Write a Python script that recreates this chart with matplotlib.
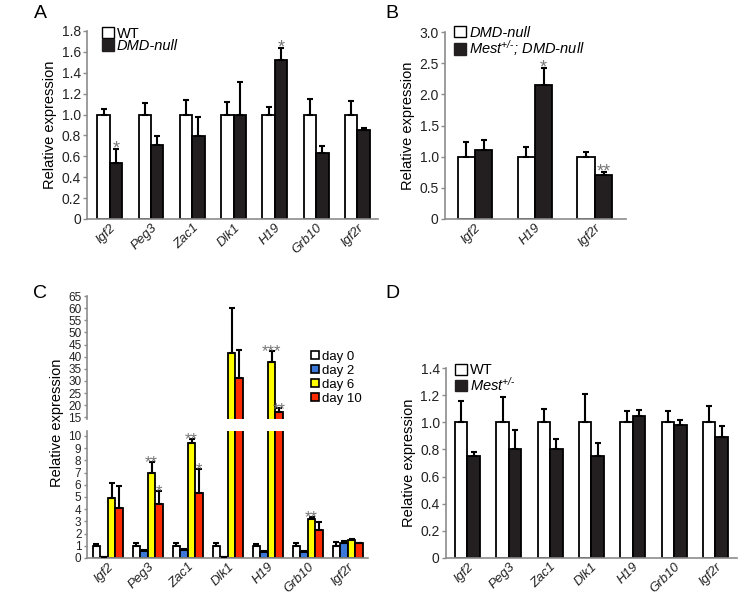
import matplotlib.pyplot as plt
import numpy as np
from matplotlib.patches import Patch

plt.rcParams['font.family'] = ['Liberation Sans', 'DejaVu Sans']
plt.rcParams['mathtext.fontset'] = 'custom'
plt.rcParams['mathtext.rm'] = 'Liberation Sans'
plt.rcParams['mathtext.it'] = 'Liberation Sans:italic'

genes = ['Igf2', 'Peg3', 'Zac1', 'Dlk1', 'H19', 'Grb10', 'Igf2r']

# panel A
a_wt = [1.0, 1.0, 1.0, 1.0, 1.0, 1.0, 1.0]
a_wt_err = [0.05, 0.11, 0.14, 0.12, 0.07, 0.15, 0.13]
a_null = [0.54, 0.71, 0.79, 1.0, 1.52, 0.63, 0.85]
a_null_err = [0.13, 0.08, 0.19, 0.31, 0.12, 0.07, 0.02]
a_stars = ['*', '', '', '', '*', '', '']

# panel B
b_genes = ['Igf2', 'H19', 'Igf2r']
b_null = [1.0, 1.0, 1.0]
b_null_err = [0.24, 0.15, 0.07]
b_mest = [1.11, 2.15, 0.71]
b_mest_err = [0.16, 0.27, 0.04]
b_stars = ['', '*', '**']

# panel C
days = ['day 0', 'day 2', 'day 6', 'day 10']
c_day0 = [1.0, 1.0, 1.0, 1.0, 1.0, 1.0, 1.0]
c_day0_err = [0.15, 0.25, 0.25, 0.2, 0.15, 0.2, 0.27]
c_day2 = [0.05, 0.55, 0.65, 0.08, 0.5, 0.5, 1.2]
c_day2_err = [0.0, 0.1, 0.05, 0.0, 0.1, 0.08, 0.2]
c_day6 = [4.95, 7.0, 9.4, 41.5, 37.6, 3.2, 1.47]
c_day6_err = [1.17, 0.9, 0.35, 18.7, 4.9, 0.15, 0.08]
c_day10 = [4.1, 4.4, 5.35, 31.3, 17.3, 2.3, 1.25]
c_day10_err = [1.8, 1.1, 1.95, 11.6, 1.4, 0.63, 0.0]
c_stars6 = ['', '**', '**', '', '***', '**', '']
c_stars10 = ['', '*', '*', '', '**', '', '']

# panel D
d_wt = [1.0, 1.0, 1.0, 1.0, 1.0, 1.0, 1.0]
d_wt_err = [0.16, 0.19, 0.10, 0.21, 0.08, 0.08, 0.12]
d_mest = [0.75, 0.80, 0.80, 0.75, 1.05, 0.98, 0.89]
d_mest_err = [0.03, 0.14, 0.08, 0.10, 0.04, 0.04, 0.08]

AXC = '#8c8c8c'
DARK = '#231f20'
MEST = r'Mest$^{\mathregular{+/\text{-}}}$'


def style(ax, labels, ticksize=10):
    for s in ['top', 'right']:
        ax.spines[s].set_visible(False)
    for s in ['left', 'bottom']:
        ax.spines[s].set_color(AXC)
        ax.spines[s].set_linewidth(1.2)
    ax.tick_params(axis='y', colors=AXC, labelcolor='#222222', labelsize=ticksize,
                   length=3, width=1, pad=1.5)
    ax.tick_params(axis='x', length=0, pad=2)
    ax.set_xticks(np.arange(len(labels)))
    ax.set_xticklabels(labels, rotation=45, ha='right', rotation_mode='anchor',
                       fontstyle='italic', fontsize=9.5, color='#222222')


def bars(ax, x, vals, errs, color, w, stars=None, star_size=13):
    ax.bar(x, vals, w, color=color, edgecolor='black', linewidth=1.3, zorder=2)
    ax.errorbar(x, vals, yerr=[np.zeros(len(vals)), errs], fmt='none',
                ecolor='black', elinewidth=1.5, capsize=2.2, capthick=1.5, zorder=3)
    if stars:
        for xi, v, e, s in zip(x, vals, errs, stars):
            if s:
                ax.annotate(s, (xi, v + e), xytext=(0, -6), textcoords='offset points',
                            ha='center', va='bottom', color='#777777', fontsize=star_size)


def legend(ax, labels, anchor):
    leg = ax.legend(handles=[Patch(facecolor='white', edgecolor='black', label=labels[0]),
                             Patch(facecolor=DARK, edgecolor=DARK, label=labels[1])],
                    loc='upper left', bbox_to_anchor=anchor, frameon=False,
                    handlelength=0.85, handleheight=0.8, handletextpad=0.2,
                    labelspacing=-0.1, fontsize=10.5, borderaxespad=0.2)
    return leg


fig = plt.figure(figsize=(7.47, 5.95), dpi=100)

# ---- A ----
axA = fig.add_axes([0.1165, 0.632, 0.3896, 0.316])
x = np.arange(7)
bars(axA, x - 0.15, a_wt, a_wt_err, 'white', 0.3)
bars(axA, x + 0.15, a_null, a_null_err, DARK, 0.3, a_stars)
axA.set_xlim(-0.55, 6.5)
axA.set_ylim(0, 1.8)
axA.set_yticks(np.arange(0, 1.81, 0.2))
axA.set_yticklabels(['0'] + ['%.1f' % v for v in np.arange(0.2, 1.81, 0.2)])
style(axA, genes)
axA.set_ylabel('Relative expression', fontsize=10.5, labelpad=3)
legA = legend(axA, ['WT', 'DMD-null'], (0.02, 1.07))
legA.get_texts()[1].set_fontstyle('italic')

# ---- B ----
axB = fig.add_axes([0.5957, 0.632, 0.2423, 0.314])
xb = np.arange(3)
bars(axB, xb - 0.145, b_null, b_null_err, 'white', 0.29)
bars(axB, xb + 0.145, b_mest, b_mest_err, DARK, 0.29, b_stars)
axB.set_xlim(-0.5, 2.52)
axB.set_ylim(0, 3.0)
axB.set_yticks(np.arange(0, 3.01, 0.5))
axB.set_yticklabels(['0', '0.5', '1.0', '1.5', '2.0', '2.5', '3.0'])
style(axB, b_genes)
axB.set_ylabel('Relative expression', fontsize=10.5, labelpad=3)
legB = legend(axB, ['DMD-null', MEST + '; DMD-null'], (0.0, 1.08))
for t in legB.get_texts():
    t.set_fontstyle('italic')

# ---- C (broken axis) ----
c_vals = [c_day0, c_day2, c_day6, c_day10]
c_errs = [c_day0_err, c_day2_err, c_day6_err, c_day10_err]
c_cols = ['white', '#3c78d8', '#ffff00', '#ff2a00']
c_star = [None, None, c_stars6, c_stars10]
axCt = fig.add_axes([0.1165, 0.2958, 0.376, 0.2067])
axCb = fig.add_axes([0.1165, 0.0622, 0.376, 0.2134])
w = 0.19
for ax in (axCt, axCb):
    for i in range(4):
        bars(ax, x + (i - 1.5) * w, c_vals[i], c_errs[i], c_cols[i], w, c_star[i],
             star_size=12)
    ax.set_xlim(-0.52, 6.5)
axCt.set_ylim(14.3, 65)
axCt.set_yticks(np.arange(15, 66, 5))
axCb.set_ylim(0, 10.4)
axCb.set_yticks(np.arange(0, 11, 1))
style(axCb, genes, ticksize=8.5)
style(axCt, genes, ticksize=8.5)
axCt.spines['bottom'].set_visible(False)
axCt.set_xticklabels([])
axCt.tick_params(axis='y', length=2.5)
axCb.tick_params(axis='y', length=2.5)
# hide stars in the lower panel that belong to the clipped bars
for t in axCb.texts:
    if t.xy[1] > 10.4:
        t.set_visible(False)
fig.text(0.076, 0.29, 'Relative expression', rotation=90, ha='center', va='center',
         fontsize=10.5)
axCt.legend(handles=[Patch(facecolor=c, edgecolor='black', linewidth=1.2, label=d)
                     for c, d in zip(c_cols, days)],
            loc='upper left', bbox_to_anchor=(0.77, 0.62), frameon=False,
            handlelength=0.6, handleheight=0.5, handletextpad=0.2, labelspacing=0.15,
            fontsize=9.5, borderaxespad=0.2)

# ---- D ----
axD = fig.add_axes([0.597, 0.0622, 0.3896, 0.3193])
bars(axD, x - 0.15, d_wt, d_wt_err, 'white', 0.3)
bars(axD, x + 0.15, d_mest, d_mest_err, DARK, 0.3)
axD.set_xlim(-0.52, 6.52)
axD.set_ylim(0, 1.4)
axD.set_yticks(np.arange(0, 1.41, 0.2))
axD.set_yticklabels(['0'] + ['%.1f' % v for v in np.arange(0.2, 1.41, 0.2)])
style(axD, genes)
axD.set_ylabel('Relative expression', fontsize=10.5, labelpad=3)
legD = legend(axD, ['WT', MEST], (0.0, 1.07))
legD.get_texts()[1].set_fontstyle('italic')

# panel letters
for lab, px, py in [('A', 40, 13), ('B', 392, 13), ('C', 40, 293), ('D', 392, 293)]:
    fig.text(px / 747, 1 - py / 595, lab, fontsize=14, ha='center', va='center')

fig.savefig('out.png', dpi=100)
